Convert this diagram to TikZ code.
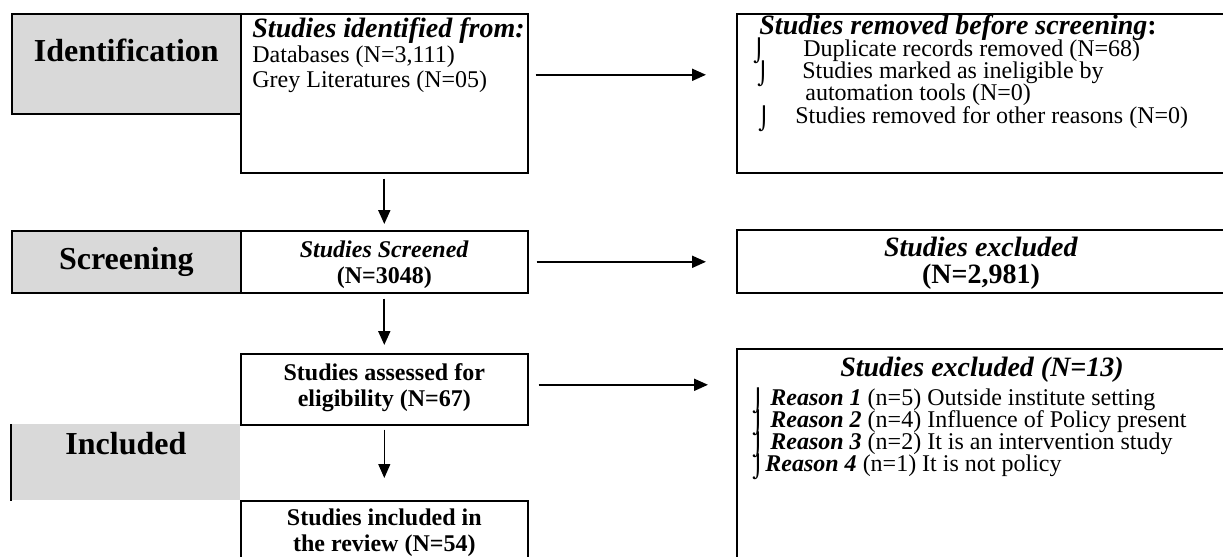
\documentclass[tikz,border=0pt]{standalone}
\usepackage{fontspec}
\setmainfont{Liberation Serif}
\newfontfamily\symfont{DejaVu Sans}
\usetikzlibrary{arrows.meta,positioning,calc}
\newcommand{\bul}{\raisebox{-1.5pt}{\smash{\symfont\fontsize{11}{11}\selectfont ⌡}}}

\begin{document}
\begin{tikzpicture}[x=0.5pt,y=-0.5pt,>={Triangle[length=7pt,width=6pt]},
 box/.style={draw,line width=0.8pt,anchor=north west,inner sep=0pt,minimum width=143.5pt},
 wide/.style={box,minimum width=260pt},
 side/.style={fill=black!15,anchor=north west,inner sep=0pt,minimum width=114.5pt},
 stage/.style={inner sep=0pt,font=\fontsize{16}{16}\selectfont\bfseries},
 txt/.style={inner sep=0pt,align=center,font=\fontsize{12}{13}\selectfont\bfseries},
 line/.style={inner sep=0pt,anchor=base west,font=\fontsize{12}{12}\selectfont},
 head/.style={font=\fontsize{14}{14}\selectfont\bfseries\itshape},
 arr/.style={->,line width=1pt}]
\useasboundingbox (0,0) rectangle (1223,557);

% stage column
\node[side,draw,line width=0.8pt,minimum height=50pt] (idside) at (11,13) {};
\node[side,draw,line width=0.8pt,minimum height=31pt] (scrside) at (11,230) {};
\node[side,minimum height=38pt] (incside) at (11,424) {};
\draw[line width=0.8pt] (incside.north west) -- (incside.south west);
\node[stage] (idlab) at ([yshift=6.5pt]idside.center) {Identification};
\node[stage] (scrlab) at (scrside.center) {Screening};
\node[stage] (inclab) at ([yshift=9.5pt]incside.center) {Included};

% main column
\node[box,minimum height=79.5pt] (idbox) at (240,13) {};
\node[box,minimum height=31pt] (scrbox) at (240,230) {};
\node[box,minimum height=35.5pt] (eligbox) at (240,353) {};
\node[box,minimum height=31pt] (finbox) at (240,500) {};

\node[line,head] (idt) at (252,38) {Studies identified from:};
\node[line] (id1) at (252,62.5) {Databases (N=3,111)};
\node[line] (id2) at (252,87) {Grey Literatures (N=05)};
\node[txt] (scrtxt) at ([yshift=-1.5pt]scrbox.center) {\textit{Studies Screened}\\(N=3048)};
\node[txt] (eligtxt) at ([yshift=1pt]eligbox.center) {Studies assessed for\\eligibility (N=67)};
\node[txt] (fintxt) at ([yshift=-16.5pt]finbox.north) {Studies included in\\the review (N=54)};

% excluded column
\node[wide,minimum height=79.5pt] (rmbox) at (736,13) {};
\node[wide,minimum height=31.5pt] (exbox) at (736,229) {};
\node[wide,minimum height=106pt] (rsbox) at (736,348) {};

\node[line,head] (rmt) at (759,34) {Studies removed before screening{\upshape :}};
\node[line] (rm1) at (753,56) {\makebox[25pt][l]{\bul}Duplicate records removed (N=68)};
\node[line] (rm2) at (757,78.5) {\makebox[22.5pt][l]{\bul}Studies marked as ineligible by};
\node[line] (rm3) at (805,100.5) {automation tools (N=0)};
\node[line] (rm4) at (758,123.5) {\makebox[18.5pt][l]{\bul}Studies removed for other reasons (N=0)};

\node[txt,font=\fontsize{14}{13.5}\selectfont\bfseries] (extxt) at ([xshift=122.5pt,yshift=-1pt]exbox.west)
 {\textit{Studies excluded}\\(N=2,981)};
\node[inner sep=0pt,anchor=base,head] (rstitle) at (982,376) {Studies excluded (N=13)};
\node[line] (rs1) at (752,405) {\makebox[9pt][l]{\bul}\textbf{\textit{Reason 1}} (n=5) Outside institute setting};
\node[line] (rs2) at (752,427) {\makebox[9pt][l]{\bul}\textbf{\textit{Reason 2}} (n=4) Influence of Policy present};
\node[line] (rs3) at (752,449) {\makebox[9pt][l]{\bul}\textbf{\textit{Reason 3}} (n=2) It is an intervention study};
\node[line] (rs4) at (752,471) {\makebox[6.5pt][l]{\bul}\textbf{\textit{Reason 4}} (n=1) It is not policy};

% arrows
\draw[arr,shorten <=2.5pt,shorten >=3pt] (idbox.south) -- (scrbox.north);
\draw[arr,shorten <=2.5pt,shorten >=4pt] (scrbox.south) -- (eligbox.north);
\draw[arr,line width=0.6pt,shorten <=2pt,shorten >=11pt] (eligbox.south) -- (finbox.north);
\draw[arr,shorten <=3.5pt,shorten >=15pt] ([yshift=9.25pt]idbox.east) -- ([yshift=9.25pt]idbox.east -| rmbox.west);
\draw[arr,shorten <=4pt,shorten >=15pt] (scrbox.east) -- (scrbox.east -| exbox.west);
\draw[arr,shorten <=5pt,shorten >=14pt] ([yshift=2.25pt]eligbox.east) -- ([yshift=2.25pt]eligbox.east -| rsbox.west);
\end{tikzpicture}
\end{document}
